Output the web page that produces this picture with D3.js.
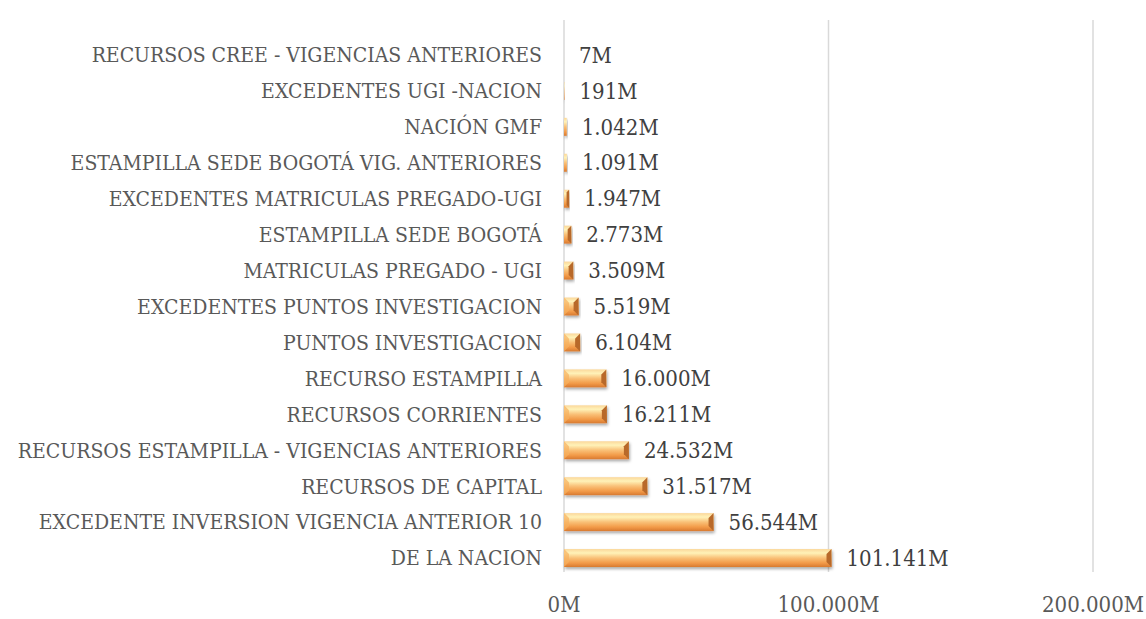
<!DOCTYPE html>
<html>
<head>
<meta charset="utf-8">
<script src="https://cdn.jsdelivr.net/npm/d3@7"></script>
<style>
  body { margin: 0; background: #fff; }
  svg text { font-stretch: condensed; }
</style>
</head>
<body>
<div id="chart"></div>
<script>
const categories = [
    'RECURSOS CREE - VIGENCIAS ANTERIORES',
    'EXCEDENTES UGI -NACION',
    'NACIÓN GMF',
    'ESTAMPILLA SEDE BOGOTÁ VIG. ANTERIORES',
    'EXCEDENTES MATRICULAS PREGADO-UGI',
    'ESTAMPILLA SEDE BOGOTÁ',
    'MATRICULAS PREGADO - UGI',
    'EXCEDENTES PUNTOS INVESTIGACION',
    'PUNTOS INVESTIGACION',
    'RECURSO ESTAMPILLA',
    'RECURSOS CORRIENTES',
    'RECURSOS ESTAMPILLA - VIGENCIAS ANTERIORES',
    'RECURSOS DE CAPITAL',
    'EXCEDENTE INVERSION VIGENCIA ANTERIOR 10',
    'DE LA NACION'
];
// millions
const values = [7, 191, 1042, 1091, 1947, 2773, 3509, 5519, 6104, 16000, 16211, 24532, 31517, 56544, 101141];
const ticks = [0, 100000, 200000];

const width = 1146, height = 619;
const margin = {top: 37, right: 53, bottom: 43, left: 564};

const svg = d3.select('#chart').append('svg')
    .attr('width', width)
    .attr('height', height)
    .attr('font-family', '"DejaVu Serif", serif');

const defs = svg.append('defs');
const grad = defs.append('linearGradient')
    .attr('id', 'barGrad')
    .attr('x1', 0).attr('y1', 0).attr('x2', 0).attr('y2', 1);
grad.append('stop').attr('offset', '0%').attr('stop-color', '#fbd79a');
grad.append('stop').attr('offset', '22%').attr('stop-color', '#fff2b8');
grad.append('stop').attr('offset', '50%').attr('stop-color', '#f9c077');
grad.append('stop').attr('offset', '78%').attr('stop-color', '#f29a48');
grad.append('stop').attr('offset', '100%').attr('stop-color', '#d87a30');

const filter = defs.append('filter').attr('id', 'shadow')
    .attr('x', '-5%').attr('y', '-30%').attr('width', '115%').attr('height', '180%');
filter.append('feDropShadow')
    .attr('dx', 1).attr('dy', 2).attr('stdDeviation', 1.5)
    .attr('flood-color', '#000').attr('flood-opacity', 0.35);

const x = d3.scaleLinear()
    .domain([0, 200000])
    .range([margin.left, width - margin.right]);

const y = d3.scaleBand()
    .domain(categories)
    .range([margin.top, height - margin.bottom])
    .paddingInner(0.5)
    .paddingOuter(0.25);

const fmt = v => d3.format(',')(v).replace(/,/g, '.') + 'M';

// Gridlines
svg.append('g').selectAll('line')
    .data(ticks).enter()
    .append('line')
    .attr('x1', d => x(d)).attr('x2', d => x(d))
    .attr('y1', 20).attr('y2', 572)
    .attr('stroke', '#d9d9d9')
    .attr('stroke-width', 1.5);

// Tick labels
svg.append('g').selectAll('text')
    .data(ticks).enter()
    .append('text')
    .attr('x', d => x(d))
    .attr('y', 612)
    .attr('text-anchor', 'middle')
    .attr('font-size', 22)
    .attr('fill', '#595959')
    .text(fmt);

// Category labels
svg.append('g').selectAll('text')
    .data(categories).enter()
    .append('text')
    .attr('x', margin.left - 22)
    .attr('y', d => y(d) + y.bandwidth() / 2)
    .attr('dy', '0.35em')
    .attr('text-anchor', 'end')
    .attr('font-size', 21)
    .attr('fill', '#595959')
    .text(d => d);

// Bars
const bars = svg.append('g').selectAll('g.bar')
    .data(categories.map((c, i) => ({cat: c, value: values[i]}))).enter()
    .append('g')
    .attr('class', 'bar');

const bh = y.bandwidth();
bars.append('rect')
    .attr('x', x(0))
    .attr('y', d => y(d.cat))
    .attr('width', d => x(d.value) - x(0))
    .attr('height', bh)
    .attr('fill', 'url(#barGrad)')
    .attr('filter', 'url(#shadow)');

// Darker bevelled right end
bars.filter(d => x(d.value) - x(0) > 4).append('polygon')
    .attr('points', d => {
        const x1 = x(d.value), y0 = y(d.cat), b = Math.min(5, (x1 - x(0)) / 2);
        return `${x1 - b},${y0 + b} ${x1},${y0} ${x1},${y0 + bh} ${x1 - b},${y0 + bh - b}`;
    })
    .attr('fill', '#b8692a');

// Left bevel
bars.filter(d => x(d.value) - x(0) > 10).append('polygon')
    .attr('points', d => {
        const x0 = x(0), y0 = y(d.cat), b = 5;
        return `${x0},${y0} ${x0 + b},${y0 + b} ${x0 + b},${y0 + bh - b} ${x0},${y0 + bh}`;
    })
    .attr('fill', '#f6b060')
    .attr('opacity', 0.7);

// Value labels
bars.append('text')
    .attr('x', d => x(d.value) + 15)
    .attr('y', d => y(d.cat) + bh / 2)
    .attr('dy', '0.35em')
    .attr('font-size', 22)
    .attr('fill', '#404040')
    .text(d => fmt(d.value));
</script>
</body>
</html>
